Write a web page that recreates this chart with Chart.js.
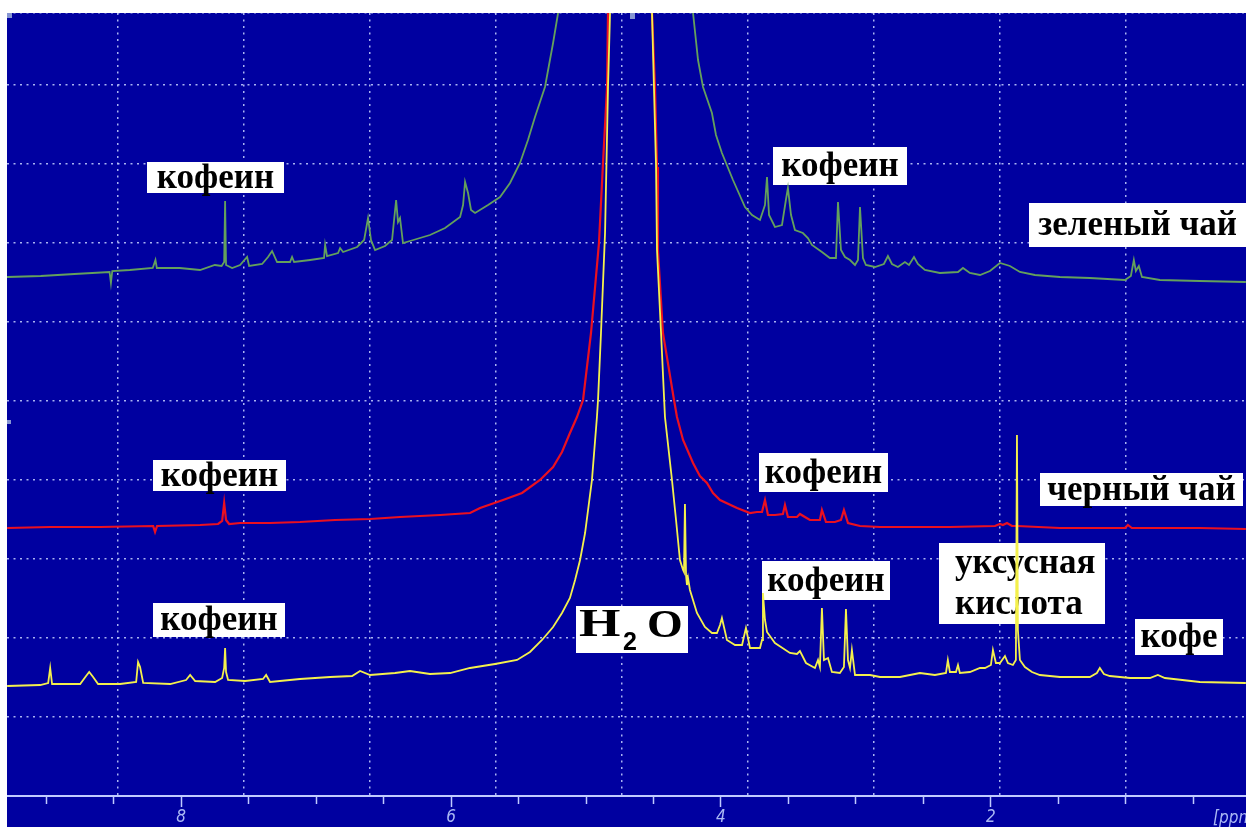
<!DOCTYPE html>
<html>
<head>
<meta charset="utf-8">
<script src="https://cdn.jsdelivr.net/npm/chart.js@4"></script>
<style>
  html, body { margin: 0; padding: 0; background: #fff; }
  #spectrum { position: absolute; left: 7px; top: 13px; background: #0000a0; }
</style>
</head>
<body>
<canvas id="spectrum" width="1239" height="814"></canvas>
<script>
// 1H NMR: зеленый чай / черный чай / кофе, shift in ppm, intensity in arbitrary units
const PPM_MIN = 0.11;
const PPM_MAX = 9.29;
const INT_MAX = 783;

const greenPpm = [9.29, 9.04, 8.79, 8.53, 8.52, 8.51, 8.38, 8.21, 8.19, 8.18, 8.01, 7.86, 7.75, 7.70,
  7.681, 7.674, 7.667, 7.622, 7.563, 7.511, 7.496, 7.40, 7.356, 7.326, 7.289, 7.193, 7.178, 7.163,
  7.044, 6.941, 6.933, 6.919, 6.837, 6.822, 6.80, 6.696, 6.644, 6.615, 6.593, 6.563, 6.489, 6.437,
  6.407, 6.393, 6.378, 6.356, 6.304, 6.156, 6.044, 5.933, 5.911, 5.896, 5.874, 5.852, 5.822, 5.726,
  5.637, 5.563, 5.489, 5.430, 5.378, 5.341, 5.304, 5.274, 5.244, 5.207, 5.178, 4.711, 4.237, 4.207,
  4.170, 4.133, 4.067, 4.037, 3.993, 3.911, 3.822, 3.770, 3.711, 3.674, 3.659, 3.644, 3.600, 3.548,
  3.519, 3.504, 3.481, 3.452, 3.393, 3.356, 3.326, 3.252, 3.193, 3.148, 3.133, 3.111, 3.081, 3.044,
  3.007, 2.985, 2.970, 2.948, 2.926, 2.859, 2.793, 2.763, 2.733, 2.689, 2.637, 2.607, 2.570, 2.541,
  2.489, 2.378, 2.244, 2.207, 2.156, 2.081, 2.007, 1.933, 1.859, 1.785, 1.674, 1.489, 1.267, 1.007,
  0.963, 0.941, 0.926, 0.904, 0.881, 0.748, 0.452, 0.111];
const greenInt = [519, 520, 522, 524, 513, 525, 526, 528, 536, 528, 528, 526, 531, 530,
  534, 595, 531, 528, 531, 539, 530, 532, 539, 545, 534, 534, 539, 534,
  536, 538, 551, 540, 543, 548, 544, 549, 556, 578, 556, 546, 550, 556,
  596, 574, 578, 553, 555, 561, 568, 579, 591, 614, 603, 586, 583, 591,
  599, 613, 633, 656, 679, 694, 709, 731, 753, 783, 816, 2400, 816, 783,
  736, 709, 683, 661, 643, 616, 589, 581, 576, 591, 619, 581, 569, 571,
  596, 608, 581, 566, 563, 558, 551, 544, 538, 538, 594, 546, 539, 536,
  531, 536, 589, 538, 531, 529, 532, 540, 532, 529, 534, 531, 539, 532,
  526, 523, 524, 528, 523, 521, 525, 533, 530, 524, 521, 519, 518, 516,
  520, 536, 525, 530, 519, 516, 515, 514];

const redPpm = [9.289, 8.970, 8.600, 8.207, 8.193, 8.178, 7.859, 7.726, 7.696, 7.681, 7.667, 7.644,
  7.563, 7.341, 7.119, 6.859, 6.600, 6.378, 6.081, 5.859, 5.785, 5.615, 5.474, 5.341, 5.244, 5.178,
  5.119, 5.067, 5.022, 4.963, 4.904, 4.874, 4.844, 4.837, 4.822, 4.674, 4.526, 4.511, 4.489, 4.474,
  4.467, 4.430, 4.348, 4.326, 4.281, 4.207, 4.156, 4.104, 4.059, 4.007, 3.881, 3.785, 3.733, 3.696,
  3.674, 3.652, 3.600, 3.541, 3.526, 3.504, 3.437, 3.415, 3.378, 3.341, 3.267, 3.252, 3.222, 3.156,
  3.111, 3.089, 3.059, 2.970, 2.822, 2.304, 1.970, 1.933, 1.911, 1.881, 1.844, 1.807, 1.489, 1.007,
  0.985, 0.956, 0.452, 0.111];
const redInt = [268, 269, 269, 270, 264, 270, 271, 272, 275, 293, 276, 272,
  273, 273, 274, 276, 277, 279, 281, 283, 288, 296, 303, 316, 329, 344,
  363, 379, 396, 463, 553, 633, 709, 783, 846, 2400, 846, 783, 709, 629,
  546, 463, 396, 379, 356, 333, 320, 313, 303, 296, 288, 283, 284, 284,
  296, 281, 281, 282, 291, 279, 279, 282, 279, 276, 276, 286, 274, 274,
  276, 286, 273, 270, 269, 269, 270, 272, 271, 273, 270, 270, 268, 268,
  271, 268, 268, 267];

const yellowPpm = [9.289, 9.044, 8.985, 8.970, 8.956, 8.748, 8.704, 8.681, 8.652, 8.615, 8.452, 8.333,
  8.319, 8.304, 8.281, 8.081, 7.963, 7.933, 7.896, 7.748, 7.696, 7.681, 7.674, 7.667, 7.652, 7.526,
  7.393, 7.370, 7.341, 7.119, 6.896, 6.733, 6.674, 6.600, 6.415, 6.304, 6.156, 6.007, 5.859, 5.674,
  5.511, 5.415, 5.326, 5.244, 5.178, 5.119, 5.081, 5.044, 5.007, 4.956, 4.919, 4.911, 4.889, 4.859,
  4.837, 4.822, 4.807, 4.674, 4.526, 4.511, 4.481, 4.474, 4.444, 4.415, 4.363, 4.333, 4.304, 4.281,
  4.274, 4.267, 4.259, 4.252, 4.244, 4.230, 4.178, 4.119, 4.067, 4.030, 4.007, 3.993, 3.956, 3.896,
  3.844, 3.815, 3.785, 3.711, 3.696, 3.689, 3.674, 3.659, 3.600, 3.489, 3.437, 3.415, 3.370, 3.304,
  3.281, 3.267, 3.252, 3.237, 3.207, 3.178, 3.119, 3.089, 3.074, 3.059, 3.044, 3.030, 3.007, 2.896,
  2.822, 2.674, 2.526, 2.415, 2.333, 2.319, 2.304, 2.259, 2.244, 2.230, 2.156, 2.081, 2.044, 2.000,
  1.985, 1.963, 1.933, 1.896, 1.874, 1.837, 1.815, 1.807, 1.800, 1.785, 1.748, 1.696, 1.637, 1.489,
  1.267, 1.215, 1.193, 1.163, 1.119, 0.970, 0.822, 0.763, 0.711, 0.452, 0.111];
const yellowInt = [110, 111, 113, 128, 112, 112, 120, 124, 119, 112, 112, 114,
  134, 129, 113, 112, 116, 121, 115, 114, 118, 128, 148, 124, 116, 115,
  117, 121, 114, 117, 119, 120, 125, 121, 123, 125, 122, 123, 128, 132,
  136, 144, 156, 169, 183, 198, 216, 236, 263, 316, 379, 396, 463, 563,
  709, 783, 846, 2400, 846, 783, 629, 546, 463, 379, 316, 276, 236, 226,
  224, 292, 221, 211, 218, 206, 183, 169, 163, 163, 171, 178, 156, 151,
  151, 168, 148, 148, 156, 203, 176, 164, 153, 143, 142, 145, 133, 128,
  136, 129, 188, 136, 138, 124, 123, 129, 187, 136, 128, 146, 121, 121,
  119, 119, 123, 121, 123, 136, 124, 124, 131, 123, 124, 128, 128, 131,
  146, 133, 133, 140, 133, 131, 136, 361, 166, 136, 129, 124, 121, 119,
  119, 123, 128, 122, 120, 118, 118, 121, 118, 114, 113];

const tickLabelColor = '#aab8f4';
const axisColor = '#c0caff';
const gridColor = 'rgba(200, 210, 255, 0.85)';
const axisFont = '"DejaVu Sans Condensed", "Liberation Sans Narrow", "DejaVu Sans", sans-serif';

const NOTES = [
  { lines: ['кофеин'], box: [140, 149, 137, 31] },
  { lines: ['кофеин'], box: [766, 134, 134, 38] },
  { lines: ['зеленый чай'], box: [1022, 190, 217, 44] },
  { lines: ['кофеин'], box: [146, 447, 133, 31] },
  { lines: ['кофеин'], box: [752, 440, 129, 39] },
  { lines: ['черный чай'], box: [1033, 460, 203, 33] },
  { lines: ['кофеин'], box: [146, 590, 132, 34] },
  { lines: ['кофеин'], box: [755, 548, 128, 39] },
  { lines: ['уксусная', 'кислота'], box: [932, 530, 166, 81], left: 16 },
  { lines: ['кофе'], box: [1128, 606, 88, 36] }
];

function toPoints(xs, ys) {
  return xs.map((x, i) => ({ x: x, y: ys[i] }));
}

const notesPlugin = {
  id: 'notes',
  beforeDatasetsDraw(chart) {
    const c = chart.ctx;
    c.save();
    // cursor markers of the spectrometer window
    c.fillStyle = '#8796d2';
    c.fillRect(0, 0, 5, 5);
    c.fillRect(623, 0, 5, 6);
    c.fillRect(0, 407, 4, 4);

    c.font = 'bold 35px "Liberation Serif", "Times New Roman", serif';
    c.textBaseline = 'middle';
    NOTES.forEach(n => {
      const [x, y, w, h] = n.box;
      c.fillStyle = '#fff';
      c.fillRect(x, y, w, h);
      c.fillStyle = '#000';
      if (n.lines.length === 1) {
        c.textAlign = 'center';
        c.fillText(n.lines[0], x + w / 2, y + h / 2 + 1);
      } else {
        c.textAlign = 'left';
        const step = h / n.lines.length;
        n.lines.forEach((t, i) => c.fillText(t, x + n.left, y + step * (i + 0.5) + 1));
      }
    });

    // H2O label, wide letters with a sans subscript
    c.fillStyle = '#fff';
    c.fillRect(569, 593, 112, 47);
    c.fillStyle = '#000';
    c.textAlign = 'left';
    c.textBaseline = 'alphabetic';
    c.save();
    c.translate(572, 623);
    c.scale(1.3, 1);
    c.font = 'bold 41px "Liberation Serif", serif';
    c.fillText('H', 0, 0);
    c.restore();
    c.save();
    c.translate(640, 624);
    c.scale(1.12, 1);
    c.font = 'bold 41px "Liberation Serif", serif';
    c.fillText('O', 0, 0);
    c.restore();
    c.font = 'bold 25px "Liberation Sans", Arial, sans-serif';
    c.fillText('2', 616, 637);
    c.restore();
  },
  afterDraw(chart) {
    // unit label at the right end of the shift axis
    const c = chart.ctx;
    c.save();
    c.fillStyle = tickLabelColor;
    c.font = 'italic 17px ' + axisFont;
    c.textAlign = 'left';
    c.textBaseline = 'middle';
    c.fillText('[ppm', 1206, 806);
    c.restore();
  }
};

const ctx = document.getElementById('spectrum').getContext('2d');

new Chart(ctx, {
  type: 'line',
  data: {
    datasets: [
      { label: 'кофе', data: toPoints(yellowPpm, yellowInt), borderColor: '#f4f04c', borderWidth: 1.8 },
      { label: 'черный чай', data: toPoints(redPpm, redInt), borderColor: '#ea1020', borderWidth: 2.2 },
      { label: 'зеленый чай', data: toPoints(greenPpm, greenInt), borderColor: '#64a05c', borderWidth: 1.8 }
    ]
  },
  options: {
    responsive: false,
    animation: false,
    layout: { padding: 0 },
    elements: { point: { radius: 0 }, line: { tension: 0 } },
    plugins: { legend: { display: false }, tooltip: { enabled: false } },
    scales: {
      x: {
        type: 'linear',
        reverse: true,
        min: PPM_MIN,
        max: PPM_MAX,
        position: 'bottom',
        afterFit: s => { s.height = 31; },
        border: { display: true, color: axisColor, width: 2 },
        grid: {
          drawOnChartArea: false,
          drawTicks: true,
          tickLength: 11,
          tickColor: axisColor,
          tickWidth: 1.5,
          tickBorderDash: c => (c.tick && c.tick.value % 2 === 0 ? [] : [7, 30])
        },
        ticks: {
          stepSize: 0.5,
          autoSkip: false,
          includeBounds: false,
          maxRotation: 0,
          padding: 0,
          color: tickLabelColor,
          font: { family: axisFont, size: 17, style: 'italic' },
          callback: v => (v % 2 === 0 ? String(v) : '')
        }
      },
      xg: {
        type: 'linear',
        min: -0.881,
        max: 8.952,
        position: 'bottom',
        afterFit: s => { s.height = 0; },
        border: { display: false, dash: [2, 4.5] },
        grid: { color: gridColor, lineWidth: 1.5, drawTicks: false },
        ticks: { display: false, stepSize: 1, includeBounds: false }
      },
      y: {
        min: 0,
        max: INT_MAX,
        position: 'left',
        afterFit: s => { s.width = 0; },
        border: { display: false, dash: [2, 4.5] },
        grid: { color: gridColor, lineWidth: 1.5, drawTicks: false },
        ticks: { display: false, stepSize: 79 }
      }
    }
  },
  plugins: [notesPlugin]
});
</script>
</body>
</html>
